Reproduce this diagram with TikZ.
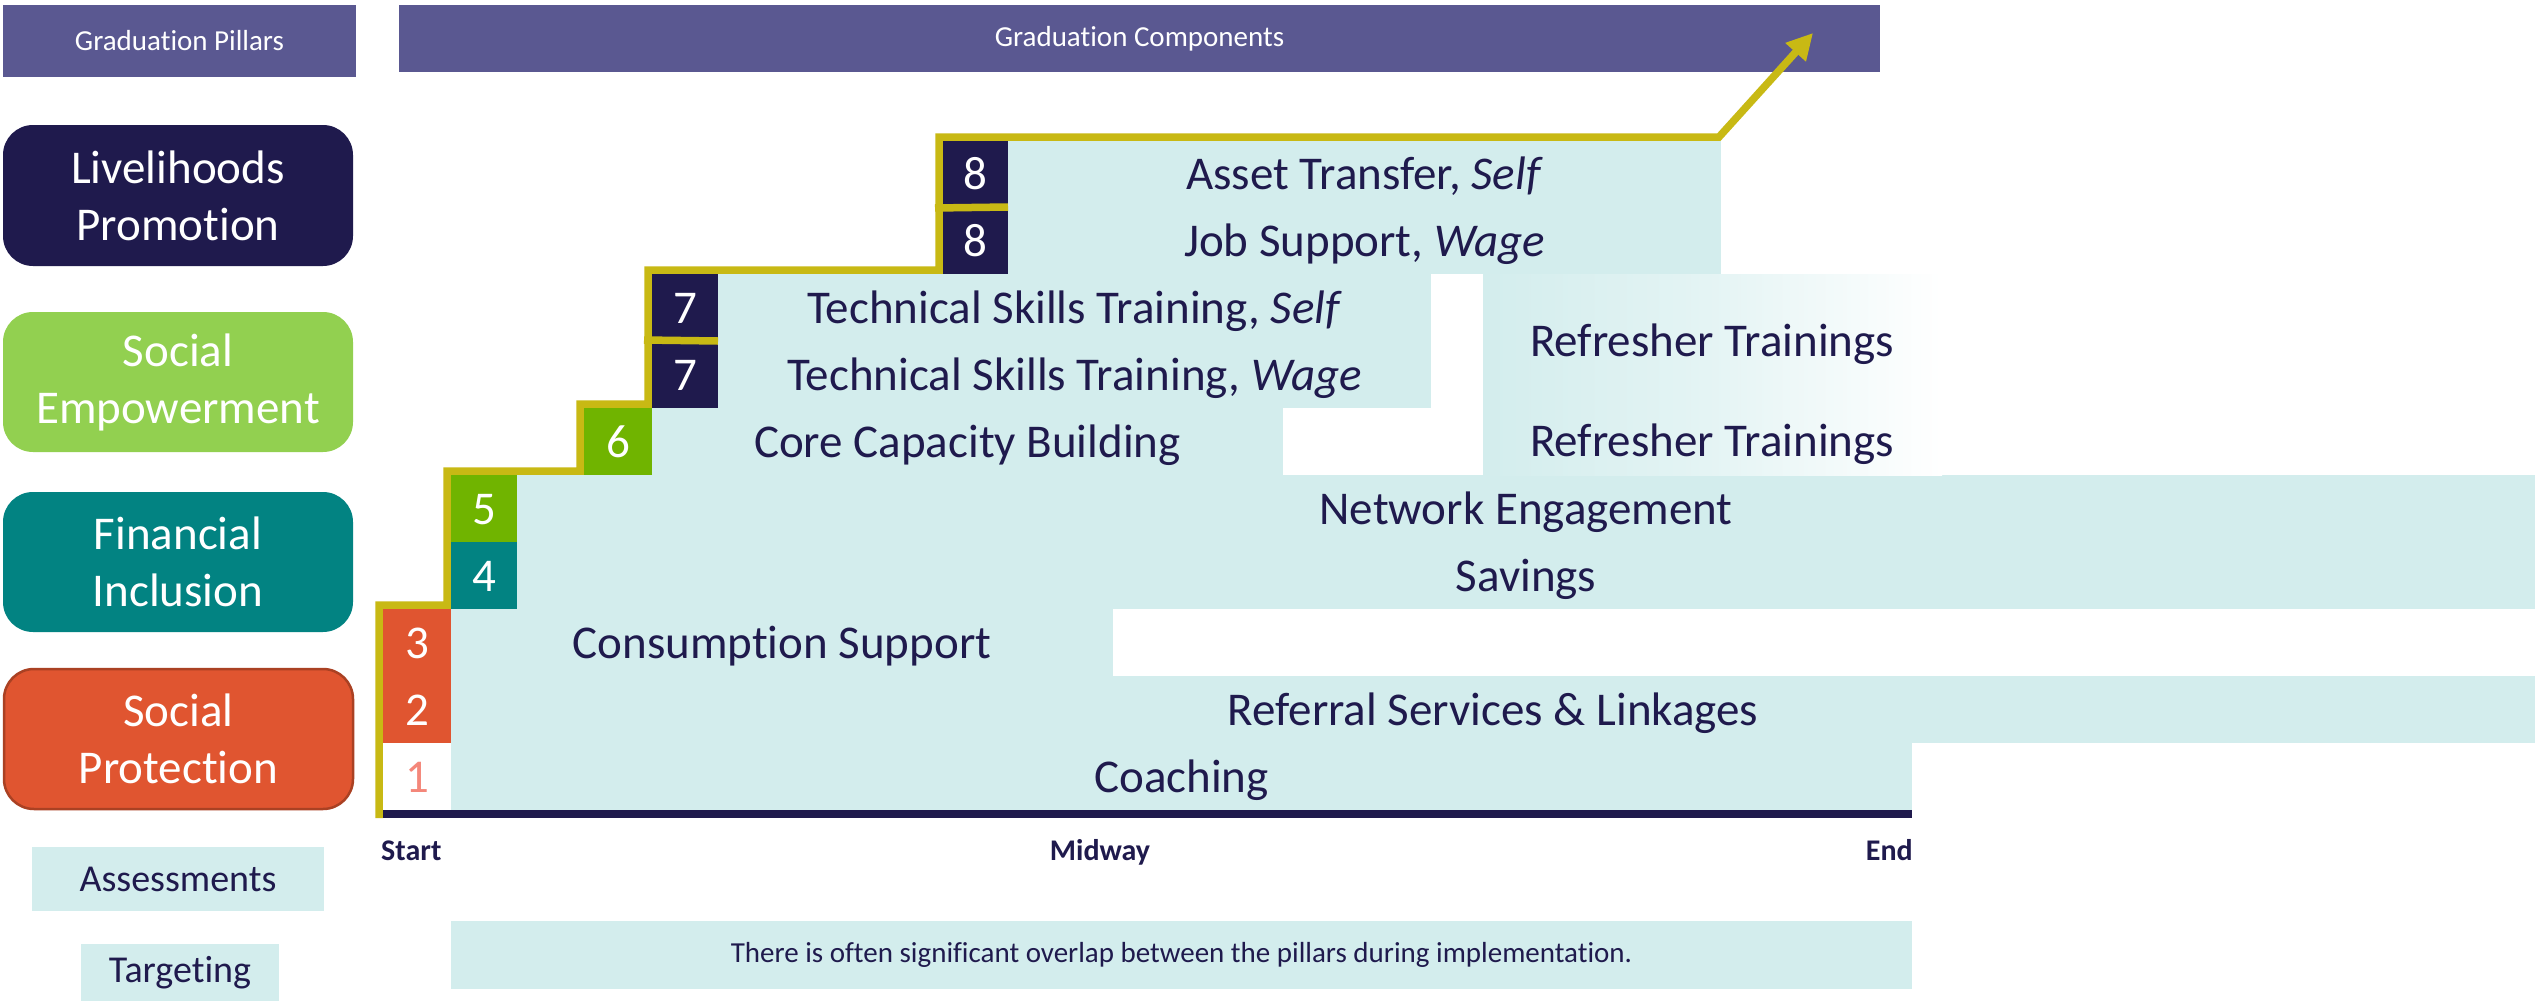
\documentclass[tikz,border=0pt]{standalone}
\usepackage{fontspec}
\setmainfont{Carlito}[Ligatures=NoCommon]
\usetikzlibrary{arrows.meta}
\definecolor{navy}{RGB}{31,26,77}
\definecolor{hdr}{RGB}{90,88,145}
\definecolor{lgreen}{RGB}{146,208,80}
\definecolor{tealc}{RGB}{2,131,130}
\definecolor{orng}{RGB}{224,85,48}
\definecolor{orngdk}{RGB}{170,65,35}
\definecolor{grn}{RGB}{112,180,0}
\definecolor{lcyan}{RGB}{211,237,237}
\definecolor{goldc}{RGB}{200,185,20}
\definecolor{salmon}{RGB}{244,135,122}
\newcommand{\fBig}{\fontsize{47}{57}\selectfont}
\newcommand{\fHdr}{\fontsize{29}{34}\selectfont}
\newcommand{\fSide}{\fontsize{38}{44}\selectfont}
\newcommand{\fAxis}{\fontsize{30}{36}\selectfont\bfseries}
\begin{document}
\begin{tikzpicture}[x=1pt,y=-1pt,
  cell/.style 2 args={minimum width=#1pt, minimum height=#2pt, inner sep=0pt, outer sep=0pt, draw=none, anchor=north west},
  hdrbox/.style={fill=hdr, text=white, font=\fHdr},
  pillar/.style={rounded corners=30pt, text=white, align=center, font=\fBig},
  bar/.style={fill=lcyan, text=navy, font=\fBig, text height=31pt, text depth=0pt},
  num/.style={text=white, font=\fBig, text height=31pt, text depth=0pt},
  side/.style={fill=lcyan, text=navy, font=\fSide},
  axislbl/.style={text=navy, font=\fAxis, inner sep=0pt},
  goldline/.style={draw=goldc, line width=7.5pt, line join=miter, line cap=butt},
  reftext/.style={text=navy, font=\fBig, text height=31pt, text depth=0pt, inner sep=0pt}
]
\useasboundingbox (0,0) rectangle (2535,1001);
\fill[white] (0,0) rectangle (2535,1001);

% headers
\node[cell={353}{72}, hdrbox] (hp) at (3,5) {Graduation Pillars};
\node[cell={1481}{67}, hdrbox] (hc) at (399,5) {Graduation Components};

% pillars
\node[cell={350}{141}, pillar, fill=navy] (lp) at (3,125) {Livelihoods\\Promotion};
\node[cell={350}{140}, pillar, fill=lgreen] (se) at (3,312) {Social\\Empowerment};
\node[cell={350}{140}, pillar, fill=tealc] (fi) at (3,492) {Financial\\Inclusion};
\node[cell={349}{140}, pillar, fill=orng, draw=orngdk, line width=2.5pt] (sp) at (4,669) {Social\\Protection};

% side boxes
\node[cell={292}{64}, side] (as) at (32,847) {Assessments};
\node[cell={198}{57}, side] (tg) at (81,944) {Targeting};

% component bars
\node[cell={1461}{67}, bar] (b1) at (451,743) {Coaching};
\node[cell={2084}{67}, bar] (b2) at (451,676) {Referral Services \& Linkages};
\node[cell={662}{67}, bar] (b3) at (451,609) {Consumption Support};
\node[cell={2018}{67}, bar] (b4) at (517,542) {Savings};
\node[cell={2018}{67}, bar] (b5) at (517,475) {Network Engagement};
\node[cell={631}{67}, bar] (b6) at (652,408) {Core Capacity Building};
\node[cell={713}{67}, bar] (b7b) at (718,341) {Technical Skills Training, \textit{Wage}};
\node[cell={713}{67}, bar] (b7a) at (718,274) {Technical Skills Training, \textit{Self}};
\node[cell={713}{67}, bar] (b8b) at (1008,207) {Job Support, \textit{Wage}};
\node[cell={713}{66}, bar] (b8a) at (1008,141) {Asset Transfer, \textit{Self}};

% refresher trainings
\shade[left color=lcyan, right color=white, middle color=lcyan!60] (1483,274) rectangle (1942,475);
\node[reftext] (rf1) at (1712,341) {Refresher Trainings};
\node[reftext] (rf2) at (1712,441) {Refresher Trainings};

% number boxes
\node[cell={68}{67}, num, fill=white, text=salmon] (n1) at (383,743) {1};
\node[cell={68}{67}, num, fill=orng] (n2) at (383,676) {2};
\node[cell={68}{67}, num, fill=orng] (n3) at (383,609) {3};
\node[cell={66}{67}, num, fill=tealc] (n4) at (451,542) {4};
\node[cell={66}{67}, num, fill=grn] (n5) at (451,475) {5};
\node[cell={68}{67}, num, fill=grn] (n6) at (584,408) {6};
\node[cell={66}{67}, num, fill=navy] (n7b) at (652,341) {7};
\node[cell={66}{67}, num, fill=navy] (n7a) at (652,274) {7};
\node[cell={65}{67}, num, fill=navy] (n8b) at (943,207) {8};
\node[cell={65}{66}, num, fill=navy] (n8a) at (943,141) {8};

% axis
\fill[navy] (383,810) rectangle (1912,818);
\node[axislbl, anchor=base west] (st) at (381,860) {Start};
\node[axislbl, anchor=base] (mw) at (1100,860) {Midway};
\node[axislbl, anchor=base east] (en) at (1913,860) {End};

% note
\node[cell={1461}{68}, side, font=\fHdr] (ov) at (451,921) {There is often significant overlap between the pillars during implementation.};

% gold staircase
\coordinate (gstart) at (379,818);
\coordinate (gtip) at (1813,33);
\draw[goldline, -{Triangle[length=26pt,width=26pt]}] (gstart) -- (379,605) -- (447,605) -- (447,471) -- (580,471) -- (580,404) -- (648,404) -- (648,270) -- (939,270) -- (939,137) -- (1719,137) -- (gtip);
\draw[goldline] (644,340) -- (n7b.north east);
\draw[goldline] (935,208) -- (n8b.north east);
\end{tikzpicture}
\end{document}
